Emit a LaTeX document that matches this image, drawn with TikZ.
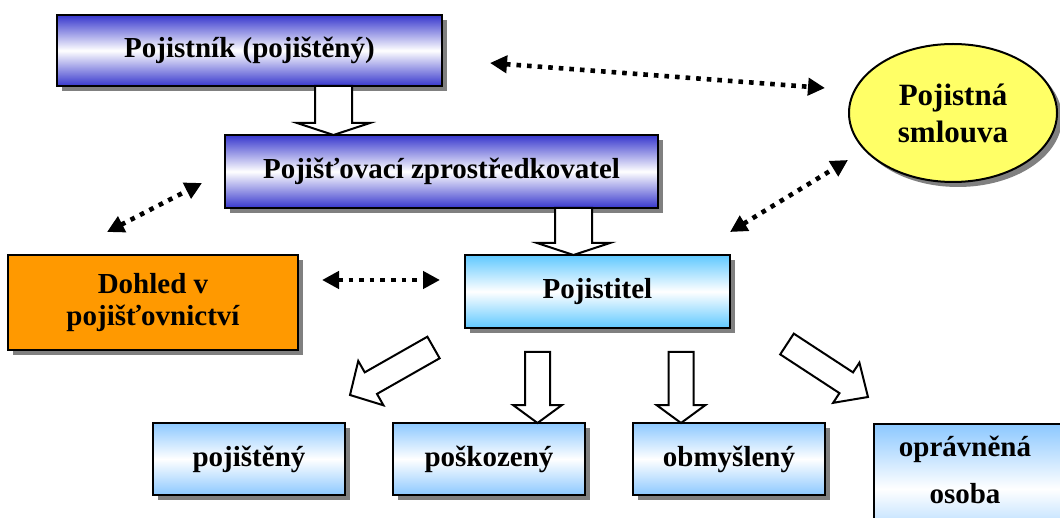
\documentclass[tikz,border=0pt]{standalone}
\usepackage{fontspec}
\setmainfont{Liberation Serif}
\usetikzlibrary{calc,shadows,arrows.meta,shapes.geometric}
\definecolor{dkblue}{RGB}{55,55,205}
\definecolor{ltblueA}{RGB}{95,200,255}
\definecolor{ltblueB}{RGB}{140,200,255}
\definecolor{orng}{RGB}{255,153,0}
\definecolor{yel}{RGB}{255,255,102}
\tikzset{
 box/.style={draw=black, line width=2pt, rectangle, inner sep=0pt, align=center,
   font=\bfseries\fontsize{29}{32}\selectfont,
   drop shadow={shadow xshift=5pt, shadow yshift=-5pt, fill=black!50, opacity=1}},
 darkbox/.style={box, top color=dkblue, bottom color=dkblue, middle color=white},
 midbox/.style={box, top color=ltblueA, bottom color=ltblueA, middle color=white},
 lowbox/.style={box, top color=ltblueB, bottom color=ltblueB, middle color=white},
 orbox/.style={box, fill=orng},
 ellbox/.style={box, ellipse, fill=yel, font=\bfseries\fontsize{31}{37}\selectfont},
 txt/.style={align=center, inner sep=0pt, font=\bfseries\fontsize{29}{47}\selectfont},
 barrow/.style={draw=black, line width=2pt, fill=white, line join=miter},
 dotarr/.style={line width=4.6pt, dash pattern=on 4.6pt off 6pt,
   {Triangle[length=17pt,width=17pt]}-{Triangle[length=17pt,width=17pt]}}
}
\newcommand\blockarr[5]{%
 \path ($(#2)!#5!(#1)$) coordinate (bahd);
 \draw[barrow] ($(#1)!#3!90:(#2)$) -- ($(bahd)!#3!-90:(#1)$) -- ($(bahd)!#4!-90:(#1)$) -- (#2)
   -- ($(bahd)!#4!90:(#1)$) -- ($(bahd)!#3!90:(#1)$) -- ($(#1)!#3!-90:(#2)$) -- cycle;}
\begin{document}
\begin{tikzpicture}[x=1pt,y=-1pt]
\clip (0,0) rectangle (1060,518);
\fill[white] (0,0) rectangle (1060,518);
% boxes
\node[darkbox, minimum width=385pt, minimum height=71pt] (pojistnik) at (249.5,50.5) {Pojistník (pojištěný)};
\node[darkbox, minimum width=433pt, minimum height=73pt] (zpros) at (441.5,171.5) {Pojišťovací zprostředkovatel};
\node[midbox, minimum width=265pt, minimum height=73pt] (pojistitel) at (597.5,291.5) {Pojistitel};
\node[orbox, minimum width=290pt, minimum height=95pt] (dohled) at (153,302.5) {Dohled v\\pojišťovnictví};
\node[ellbox, minimum width=208pt, minimum height=138pt] (smlouva) at (953,113) {Pojistná\\smlouva};
\node[lowbox, minimum width=192pt, minimum height=72pt] (pojisteny) at (249,459) {pojištěný};
\node[lowbox, minimum width=192pt, minimum height=72pt] (poskozeny) at (489,459) {poškozený};
\node[lowbox, minimum width=192pt, minimum height=72pt] (obmysleny) at (729,459) {obmyšlený};
\node[lowbox, minimum width=204pt, minimum height=130pt, anchor=north west] (opravnena) at (873,423) {};
\node[txt] (opravtext) at (965,470) {oprávněná\\osoba};
% block arrows
\coordinate (a1s) at (333.5,86);  \coordinate (a1e) at (333.5,135);
\coordinate (a2s) at (573.5,208); \coordinate (a2e) at (573.5,255);
\coordinate (a3s) at (433.5,347.5); \coordinate (a3e) at (350,395);
\coordinate (a4s) at (537.5,352); \coordinate (a4e) at (537.5,423);
\coordinate (a5s) at (681,352);   \coordinate (a5e) at (681,423);
\coordinate (a6s) at (787,344);   \coordinate (a6e) at (868,397);
\blockarr{a1s}{a1e}{18.5pt}{36.5pt}{12pt}
\blockarr{a2s}{a2e}{18.5pt}{36.5pt}{12pt}
\blockarr{a3s}{a3e}{12.4pt}{25.5pt}{24pt}
\blockarr{a4s}{a4e}{12.5pt}{24.5pt}{18pt}
\blockarr{a5s}{a5e}{12.5pt}{24.5pt}{18pt}
\blockarr{a6s}{a6e}{12.4pt}{24pt}{26pt}
% dotted arrows
\coordinate (d1a) at (490,63);  \coordinate (d1b) at (825,88);
\coordinate (d2a) at (107,232); \coordinate (d2b) at (202,183);
\coordinate (d3a) at (730,232); \coordinate (d3b) at (848,160);
\coordinate (d4a) at (322,280); \coordinate (d4b) at (440,280);
\draw[dotarr] (d1a) -- (d1b);
\draw[dotarr] (d2a) -- (d2b);
\draw[dotarr] (d3a) -- (d3b);
\draw[dotarr] (d4a) -- (d4b);
\end{tikzpicture}
\end{document}
